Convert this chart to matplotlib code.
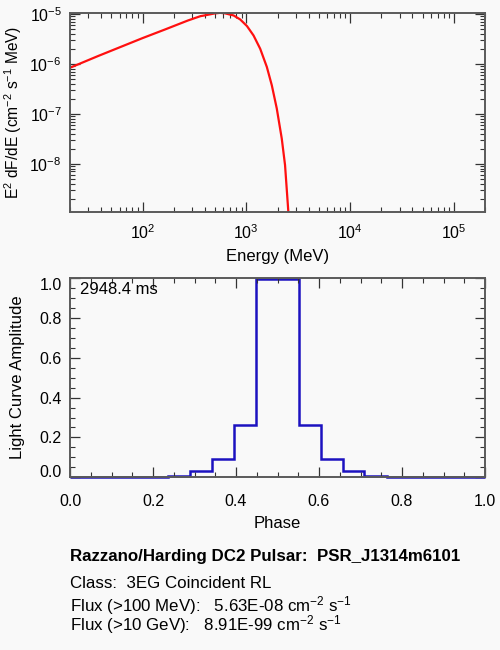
import numpy as np
import matplotlib
matplotlib.use('Agg')
import matplotlib.pyplot as plt
from matplotlib.ticker import FixedLocator, FixedFormatter, LogLocator, MultipleLocator, NullFormatter

plt.rcParams['font.family'] = ['Liberation Sans', 'DejaVu Sans']
plt.rcParams['mathtext.fontset'] = 'custom'
plt.rcParams['mathtext.rm'] = 'Liberation Sans'
plt.rcParams['mathtext.it'] = 'Liberation Sans:italic'
plt.rcParams['mathtext.default'] = 'regular'

# spectrum (MeV, E^2 dF/dE)
energy = [20, 37.5, 100, 164, 274, 362, 395, 493, 560, 620, 755, 875, 1016,
          1175, 1362, 1579, 1763, 1968, 2198, 2364, 2546, 2700]
sed = [8.4e-7, 1.45e-6, 3.3e-6, 4.9e-6, 7.45e-6, 9.1e-6, 9.4e-6, 1.03e-5,
       1.06e-5, 1.04e-5, 9.4e-6, 7.8e-6, 5.75e-6, 3.73e-6, 2.02e-6, 8.7e-7,
       3.73e-7, 1.28e-7, 3.2e-8, 9.4e-9, 1.06e-9, 1e-10]

# light curve
phase_edges = [0.0, 0.237, 0.289, 0.342, 0.394, 0.447, 0.552, 0.605, 0.657,
               0.709, 0.763, 1.0]
amplitude = [0.0, 0.006, 0.033, 0.093, 0.26, 0.993, 0.26, 0.093, 0.033,
             0.006, 0.0]

period_text = '2948.4 ms'
title_line = 'Razzano/Harding DC2 Pulsar:  PSR_J1314m6101'
class_line = 'Class:  3EG Coincident RL'
flux_lines = [
    'Flux (>100 MeV):   5.63E-08 cm$^{-2}$ s$^{-1}$',
    'Flux (>10 GeV):   8.91E-99 cm$^{-2}$ s$^{-1}$',
]

bg = '#f9f9f9'
frame = '#5a5a5a'
fig = plt.figure(figsize=(5, 6.5), dpi=100, facecolor=bg)


def style(ax):
    ax.set_facecolor(bg)
    for s in ax.spines.values():
        s.set_color(frame)
        s.set_linewidth(1.4)
    ax.tick_params(which='both', direction='in', top=True, right=True,
                   colors='#333333', labelcolor='black', labelsize=11.5)
    ax.tick_params(which='major', length=7, width=0.9)
    ax.tick_params(which='minor', length=3.5, width=0.8)


ax1 = fig.add_axes([0.14, 0.674, 0.83, 0.3056])
style(ax1)
ax1.plot(energy, sed, color='#ff1010', lw=1.6)
ax1.set_xscale('log')
ax1.set_yscale('log')
ax1.set_xlim(20, 2e5)
ax1.set_ylim(1.08e-9, 1.04e-5)
ax1.xaxis.set_major_locator(FixedLocator([1e2, 1e3, 1e4, 1e5]))
ax1.xaxis.set_major_formatter(FixedFormatter(['10$^{2}$', '10$^{3}$', '10$^{4}$', '10$^{5}$']))
ax1.xaxis.set_minor_locator(LogLocator(base=10, subs=np.arange(2, 10)))
ax1.xaxis.set_minor_formatter(NullFormatter())
ax1.yaxis.set_major_locator(FixedLocator([1e-8, 1e-7, 1e-6, 1e-5]))
ax1.yaxis.set_major_formatter(FixedFormatter(['10$^{-8}$', '10$^{-7}$', '10$^{-6}$', '10$^{-5}$']))
ax1.yaxis.set_minor_locator(LogLocator(base=10, subs=np.arange(2, 10)))
ax1.yaxis.set_minor_formatter(NullFormatter())
ax1.tick_params(axis='x', which='major', pad=8)
ax1.tick_params(axis='y', which='major', pad=6)
ax1.set_xlabel('Energy (MeV)', fontsize=12, labelpad=5)
ax1.set_ylabel('E$^{2}$ dF/dE (cm$^{-2}$ s$^{-1}$ MeV)', fontsize=11.2)
ax1.yaxis.set_label_coords(-0.112, 0.5)

ax2 = fig.add_axes([0.14, 0.2657, 0.83, 0.3066])
style(ax2)
ax2.stairs(amplitude, phase_edges, color='#1c12c0', lw=1.8, clip_on=False)
ax2.set_xlim(0, 1)
ax2.set_ylim(0, 1.0)
ax2.xaxis.set_major_locator(MultipleLocator(0.2))
ax2.xaxis.set_minor_locator(MultipleLocator(0.05))
ax2.yaxis.set_major_locator(MultipleLocator(0.2))
ax2.yaxis.set_minor_locator(MultipleLocator(0.05))
ax2.xaxis.set_major_formatter(plt.FuncFormatter(lambda v, p: '%.1f' % v))
ax2.yaxis.set_major_formatter(plt.FuncFormatter(lambda v, p: '%.1f' % v))
ax2.tick_params(axis='x', which='major', pad=12)
ax2.tick_params(axis='y', which='major', pad=6)
ax2.set_xlabel('Phase', fontsize=12, labelpad=5)
ax2.set_ylabel('Light Curve Amplitude', fontsize=12)
ax2.yaxis.set_label_coords(-0.108, 0.5)
fig.canvas.draw()
for t in ax2.get_yticklabels():
    if t.get_text() == '0.0':
        t.set_va('baseline')
    elif t.get_text() == '1.0':
        t.set_va('top')
ax2.text(0.024, 0.94, period_text, transform=ax2.transAxes, fontsize=12,
         va='center', ha='left')

fig.text(0.14, 1 - 557 / 650, title_line, fontsize=12.2, fontweight='bold',
         va='center', ha='left')
fig.text(0.14, 1 - 583 / 650, class_line, fontsize=12.2, va='center', ha='left')
fig.text(0.14, 1 - 615 / 650, '\n'.join(flux_lines), fontsize=12.2,
         va='center', ha='left', linespacing=0.82)

fig.savefig('out.png', dpi=100, facecolor=bg)
